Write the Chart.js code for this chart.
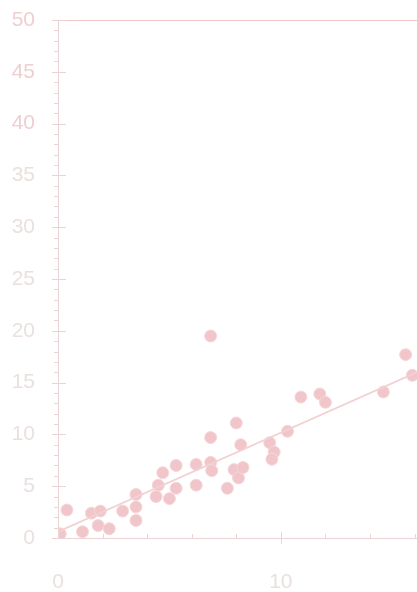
<!DOCTYPE html>
<html lang="en">
<head>
    <meta charset="UTF-8">
    <title>scatter</title>
    <style>
      html, body { margin: 0; padding: 0; background: #fff; overflow: hidden; }
      #wrap { width: 417px; height: 592px; overflow: hidden; }
    </style>
</head>
  <body>
    <div id="wrap"><canvas id="scatterChart" width="426" height="592"></canvas></div>
    <script src="https://cdn.jsdelivr.net/npm/chart.js"></script>
    <script>
      // points
      const xValues = [0.1, 0.4, 1.1, 1.5, 1.8, 1.9, 2.3, 2.9, 3.5, 3.5, 3.5, 4.4, 4.5, 4.7, 5.0, 5.3, 5.3,
                       6.2, 6.2, 6.85, 6.85, 6.85, 6.9, 7.6, 7.9, 8.0, 8.1, 8.2, 8.3, 9.5, 9.7, 9.6,
                       10.3, 10.9, 11.75, 12.0, 14.6, 15.6, 15.9];
      const yValues = [0.4, 2.7, 0.6, 2.4, 1.2, 2.6, 0.9, 2.6, 1.7, 3.0, 4.2, 4.0, 5.1, 6.3, 3.8, 4.8, 7.0,
                       5.1, 7.1, 19.5, 9.7, 7.3, 6.5, 4.8, 6.6, 11.1, 5.8, 9.0, 6.8, 9.2, 8.3, 7.6,
                       10.3, 13.6, 13.9, 13.1, 14.1, 17.7, 15.7];
      // fitted line ends
      const fitX = [0, 16.2];
      const fitY = [0.6, 16.1];
      const xTicks = [0, 10];
      const yTicks = [0, 5, 10, 15, 20, 25, 30, 35, 40, 45, 50];

      const pink = '#f1c6cb';
      const axisCol = '#ecd3d5';

      function labelColor(c) {
        const v = c.tick ? c.tick.value : 0;
        if (c.scale.axis === 'y' && v >= 40) return '#efcfd0';
        return '#e9e1dd';
      }

      // frame + minor ticks
      const frame = {
        id: 'frame',
        afterDraw(chart) {
          const ctx = chart.ctx;
          const a = chart.chartArea;
          const xs = chart.scales.x, ys = chart.scales.y;
          ctx.save();
          ctx.strokeStyle = axisCol;
          ctx.lineWidth = 1;
          ctx.beginPath();
          ctx.moveTo(a.left + 0.5, a.top);
          ctx.lineTo(a.left + 0.5, a.bottom);
          ctx.moveTo(a.left, a.bottom + 0.5);
          ctx.lineTo(a.right, a.bottom + 0.5);
          ctx.stroke();
          ctx.strokeStyle = pink;
          ctx.beginPath();
          ctx.moveTo(a.left, a.top + 0.5);
          ctx.lineTo(a.right, a.top + 0.5);
          ctx.stroke();
          ctx.strokeStyle = axisCol;
          ctx.beginPath();
          for (let v = 0; v <= 50; v++) {
            const py = Math.round(ys.getPixelForValue(v)) + 0.5;
            if (v % 5 === 0) {
              ctx.moveTo(a.left - 6, py); ctx.lineTo(a.left + 8, py);
            } else {
              ctx.moveTo(a.left - 4, py); ctx.lineTo(a.left, py);
            }
          }
          for (let v = 2; v <= 16; v += 2) {
            const px = Math.round(xs.getPixelForValue(v)) + 0.5;
            if (v % 10 === 0) {
              ctx.moveTo(px, a.bottom - 6); ctx.lineTo(px, a.bottom + 6);
            } else {
              ctx.moveTo(px, a.bottom - 4); ctx.lineTo(px, a.bottom);
            }
          }
          ctx.stroke();
          ctx.restore();
        }
      };

      const ctx = document.getElementById('scatterChart').getContext('2d');
      const chart = new Chart(ctx, {
        type: 'scatter',
        data: {
          datasets: [
            {
              type: 'line',
              data: fitX.map((x, i) => ({ x: x, y: fitY[i] })),
              borderColor: '#f2d0d3',
              borderWidth: 1.8,
              pointRadius: 0,
              fill: false,
              order: 0
            },
            {
              data: xValues.map((x, i) => ({ x: x, y: yValues[i] })),
              backgroundColor: pink,
              borderColor: '#f5d6d9',
              borderWidth: 1,
              pointRadius: 6,
              order: 1
            }
          ]
        },
        options: {
          responsive: false,
          animation: false,
          layout: { padding: { top: 20, right: 0, left: 0, bottom: 0 } },
          plugins: { legend: { display: false }, tooltip: { enabled: false } },
          scales: {
            x: {
              type: 'linear',
              min: 0,
              max: 16.2,
              afterBuildTicks: (s) => { s.ticks = xTicks.map(v => ({ value: v })); },
              afterFit: (s) => { s.height = 54; },
              grid: { display: false, drawTicks: false },
              border: { display: false },
              ticks: {
                color: labelColor,
                padding: 32,
                maxRotation: 0,
                font: { family: 'Liberation Sans', size: 21 }
              }
            },
            y: {
              min: 0,
              max: 50,
              afterBuildTicks: (s) => { s.ticks = yTicks.map(v => ({ value: v })); },
              afterFit: (s) => { s.width = 58; s.paddingTop = 0; s.paddingBottom = 0; },
              grid: { display: false, drawTicks: false },
              border: { display: false },
              ticks: {
                color: labelColor,
                padding: 23,
                font: { family: 'Liberation Sans', size: 21 }
              }
            }
          }
        },
        plugins: [frame]
      });
    </script>
  </body>
</html>
